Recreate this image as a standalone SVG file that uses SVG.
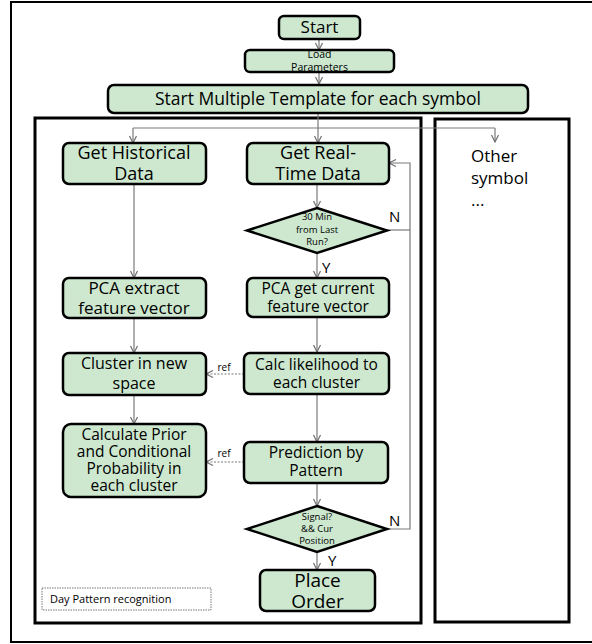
<svg xmlns="http://www.w3.org/2000/svg" width="592" height="644" viewBox="0 0 592 644">
<defs>
<marker id="arr" markerUnits="userSpaceOnUse" markerWidth="10" markerHeight="10" refX="8" refY="5" orient="auto">
<path d="M1,1.5 L8,5 L1,8.5" fill="none" stroke="#6f6f6f" stroke-width="1.2"/>
</marker>
<style>
.node{fill:#cde8cf;stroke:#000;stroke-width:2.5}
.frame{fill:none;stroke:#000;stroke-width:3}
.t{font-family:"Open Sans","Liberation Sans",sans-serif;fill:#000;text-anchor:middle}
.big{font-size:17px}
.sm{font-size:9.5px}
.c{fill:none;stroke:#7a7a7a;stroke-width:1.2}
.ca{fill:none;stroke:#7a7a7a;stroke-width:1.2;marker-end:url(#arr)}
.dash{fill:none;stroke:#7a7a7a;stroke-width:1.2;stroke-dasharray:2,1.5;marker-end:url(#arr)}
.lbl{font-family:"Open Sans","Liberation Sans",sans-serif;font-size:15px;fill:#000}
</style>
</defs>
<rect x="0" y="0" width="592" height="644" fill="#fff"/>
<rect x="11" y="2" width="600" height="640" fill="none" stroke="#000" stroke-width="2"/>
<rect class="frame" x="35" y="118" width="386" height="505"/>
<rect class="frame" x="435" y="119" width="134" height="503"/>

<g id="connectors">
<path class="ca" d="M319,39 V50"/>
<path class="ca" d="M319,72 V84"/>
<path class="ca" d="M318,113 V143"/>
<path class="c" d="M133,128 H495"/>
<path class="ca" d="M133,128 V143"/>
<path class="ca" d="M495,128 V142"/>
<path class="ca" d="M134,184 V278"/>
<path class="ca" d="M317,184 V208"/>
<path class="ca" d="M317,253 V278"/>
<path class="c" d="M387,230 H410"/>
<path class="ca" d="M387,529 H410 V163 H389"/>
<path class="ca" d="M134,318 V353"/>
<path class="ca" d="M317,317 V352"/>
<path class="ca" d="M134,395 V424"/>
<path class="ca" d="M317,394 V442"/>
<path class="dash" d="M244,374 H206"/>
<path class="dash" d="M244,462 H206"/>
<path class="ca" d="M317,483 V506"/>
<path class="ca" d="M317,552 V570"/>
<text class="t" x="224" y="371" font-size="10">ref</text>
<text class="t" x="224" y="457" font-size="10">ref</text>
<text class="lbl" x="389" y="222">N</text>
<text class="lbl" x="322" y="273">Y</text>
<text class="lbl" x="389" y="526">N</text>
<text class="lbl" x="328" y="566">Y</text>
</g>

<g id="start">
<rect class="node" x="279" y="16" width="81" height="23" rx="5"/>
<text class="t big" x="319.5" y="33">Start</text>
</g>
<g id="load">
<rect class="node" x="245" y="50" width="149" height="22" rx="5"/>
<text class="t" x="319.5" y="58" font-size="10.5">Load</text>
<text class="t" x="319.5" y="71" font-size="10.5">Parameters</text>
</g>
<g id="template">
<rect class="node" x="108" y="85" width="420" height="28" rx="6"/>
<text class="t" x="318" y="105" font-size="17.5">Start Multiple Template for each symbol</text>
</g>
<g id="historical">
<rect class="node" x="63" y="143" width="143" height="41" rx="6"/>
<text class="t" x="134" y="159" font-size="18">Get Historical</text>
<text class="t" x="134" y="180" font-size="18">Data</text>
</g>
<g id="realtime">
<rect class="node" x="247" y="143" width="142" height="41" rx="6"/>
<text class="t" x="318" y="159" font-size="18">Get Real-</text>
<text class="t" x="318" y="180" font-size="18">Time Data</text>
</g>
<g id="decision1">
<polygon class="node" points="317,208 387,230.5 317,253 247,230.5"/>
<text class="t sm" x="317" y="220">30 Min</text>
<text class="t sm" x="317" y="233">from Last</text>
<text class="t sm" x="317" y="245">Run?</text>
</g>
<g id="pca-extract">
<rect class="node" x="63" y="278" width="143" height="40" rx="6"/>
<text class="t big" x="134" y="294">PCA extract</text>
<text class="t big" x="134" y="314">feature  vector</text>
</g>
<g id="pca-current">
<rect class="node" x="247" y="278" width="142" height="39" rx="6"/>
<text class="t" x="318" y="294" font-size="15.5">PCA get current</text>
<text class="t" x="318" y="312" font-size="15.5">feature vector</text>
</g>
<g id="cluster">
<rect class="node" x="63" y="353" width="143" height="42" rx="6"/>
<text class="t" x="134" y="369" font-size="16">Cluster in new</text>
<text class="t" x="134" y="389" font-size="16">space</text>
</g>
<g id="likelihood">
<rect class="node" x="244" y="353" width="145" height="41" rx="6"/>
<text class="t" x="316.5" y="370" font-size="15.5">Calc likelihood to</text>
<text class="t" x="316.5" y="388" font-size="15.5">each cluster</text>
</g>
<g id="prior">
<rect class="node" x="63" y="424" width="143" height="73" rx="8"/>
<text class="t" x="134" y="440" font-size="15.5">Calculate Prior</text>
<text class="t" x="134" y="457" font-size="15.5">and Conditional</text>
<text class="t" x="134" y="474" font-size="15.5">Probability in</text>
<text class="t" x="134" y="491" font-size="15.5">each cluster</text>
</g>
<g id="prediction">
<rect class="node" x="244" y="442" width="144" height="41" rx="6"/>
<text class="t" x="316" y="458" font-size="15.5">Prediction by</text>
<text class="t" x="316" y="476" font-size="15.5">Pattern</text>
</g>
<g id="decision2">
<polygon class="node" points="317,506 387,529 317,552 247,529"/>
<text class="t sm" x="317" y="520">Signal?</text>
<text class="t sm" x="317" y="532">&amp;&amp; Cur</text>
<text class="t sm" x="317" y="544">Position</text>
</g>
<g id="place-order">
<rect class="node" x="260" y="570" width="115" height="41" rx="6"/>
<text class="t" x="317.5" y="587" font-size="19">Place</text>
<text class="t" x="317.5" y="608" font-size="19">Order</text>
</g>
<g id="day-pattern">
<rect x="42" y="588" width="169" height="22" fill="#fff" stroke="#777" stroke-width="1" stroke-dasharray="1.5,1"/>
<text x="50" y="603" font-family="Open Sans, Liberation Sans, sans-serif" font-size="11" fill="#000">Day Pattern recognition</text>
</g>
<g id="other-symbol">
<text x="471" y="162" font-family="Open Sans, Liberation Sans, sans-serif" font-size="17" fill="#000">Other</text>
<text x="471" y="184" font-family="Open Sans, Liberation Sans, sans-serif" font-size="17" fill="#000">symbol</text>
<text x="471" y="206" font-family="Open Sans, Liberation Sans, sans-serif" font-size="17" fill="#000">...</text>
</g>
</svg>
